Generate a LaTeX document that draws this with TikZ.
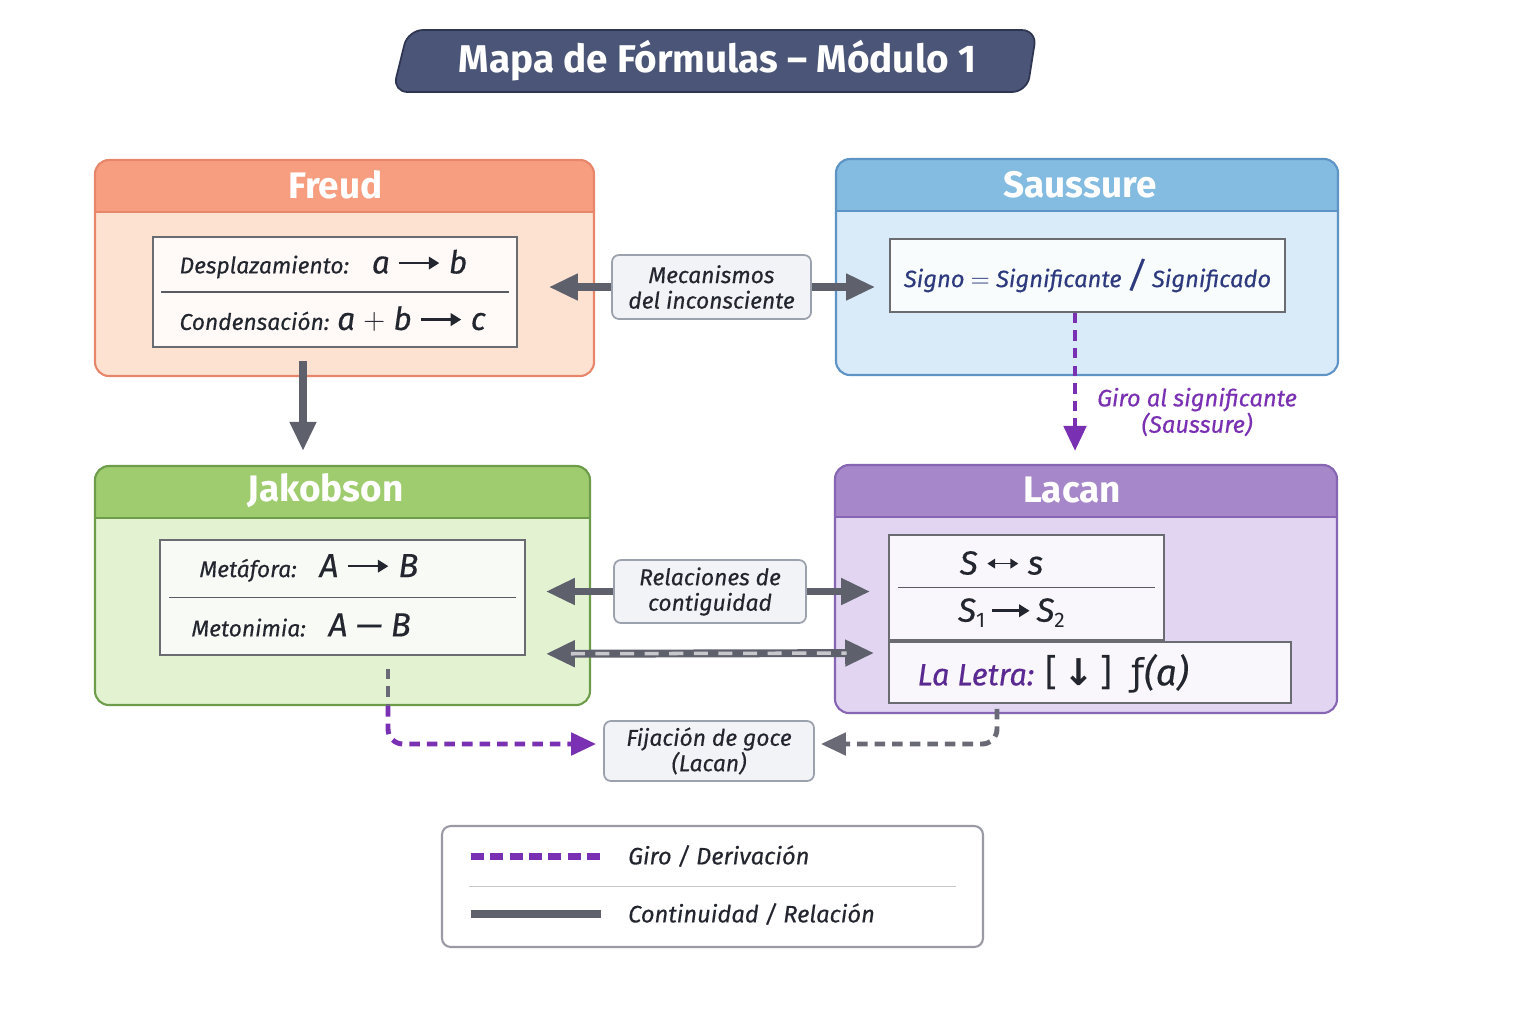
\documentclass[tikz,border=0pt]{standalone}
\usepackage{fontspec}
\setmainfont{Fira Sans}[ItalicFeatures={FakeBold=0.4}]
\newfontfamily\arrowfont{DejaVu Sans}
\usetikzlibrary{shapes.geometric, arrows.meta, positioning, calc}

\definecolor{titleFill}{HTML}{4B5577}
\definecolor{titleLine}{HTML}{2F3652}
\definecolor{freudHead}{HTML}{F79D80}
\definecolor{freudBody}{HTML}{FDE2D2}
\definecolor{freudLine}{HTML}{E8866B}
\definecolor{saussHead}{HTML}{84BBE0}
\definecolor{saussBody}{HTML}{D9EBF8}
\definecolor{saussLine}{HTML}{5E93C6}
\definecolor{jakHead}{HTML}{A0CC70}
\definecolor{jakBody}{HTML}{E3F3D2}
\definecolor{jakLine}{HTML}{6D9D4B}
\definecolor{lacanHead}{HTML}{A687C9}
\definecolor{lacanBody}{HTML}{E1D5F1}
\definecolor{lacanLine}{HTML}{8666B2}
\definecolor{boxLine}{HTML}{6B6B72}
\definecolor{sepLine}{HTML}{5A5A62}
\definecolor{arrGray}{HTML}{5E606C}
\definecolor{dashGray}{HTML}{6A6A76}
\definecolor{giroPurple}{HTML}{7A30B2}
\definecolor{tagFill}{HTML}{F1F3F6}
\definecolor{tagLine}{HTML}{9CA2AD}
\definecolor{inkDark}{HTML}{23262E}
\definecolor{saussInk}{HTML}{2E3A7E}
\definecolor{letraInk}{HTML}{5A2A92}
\definecolor{legLine}{HTML}{9A9AA5}

% small inline arrows for the formulas
\newcommand\rarr[1][0.7]{\tikz[baseline=-0.62ex]\draw[-{Triangle[length=6pt,width=7pt]}, line width=1.5pt, draw=inkDark] (0,0) -- (#1,0);}
\newcommand\lrarr{\tikz[baseline=-0.62ex]\draw[{Triangle[length=4.5pt,width=5.5pt]}-{Triangle[length=4.5pt,width=5.5pt]}, line width=1pt, draw=inkDark] (0,0) -- (0.62,0);}

\begin{document}
\begin{tikzpicture}[
        >={Triangle[length=0.58cm,width=0.5cm]},
        font=\itshape\fontsize{13}{15}\selectfont,
        text=inkDark,
        title/.style={trapezium, trapezium left angle=76, trapezium right angle=99,
                      trapezium stretches=true, minimum width=12.9cm, minimum height=1.24cm,
                      fill=titleFill, draw=titleLine, line width=1pt, rounded corners=0.3cm,
                      text=white, font=\bfseries\fontsize{22}{26}\selectfont},
        panel/.style={rectangle, rounded corners=0.28cm, draw=#1Line, line width=1.2pt, fill=#1Body,
                      path picture={
                        \fill[#1Head, sharp corners] (path picture bounding box.north west)
                            rectangle ([yshift=-1.04cm]path picture bounding box.north east);
                        \draw[#1Line, line width=1pt, sharp corners] ([yshift=-1.04cm]path picture bounding box.north west)
                            -- ([yshift=-1.04cm]path picture bounding box.north east);}},
        headtxt/.style={text=white, font=\bfseries\fontsize{21}{24}\selectfont},
        formula/.style={rectangle, draw=boxLine, line width=0.9pt, fill=#1, inner sep=0pt},
        fline/.style={anchor=west, inner sep=0pt},
        big/.style={font=\itshape\fontsize{19}{19}\selectfont},
        sep/.style={draw=sepLine, line width=0.8pt},
        tag/.style={rectangle, rounded corners=4pt, draw=tagLine, line width=1pt, fill=tagFill,
                    align=center, font=\itshape\fontsize{13}{14.5}\selectfont},
        legend/.style={rectangle, rounded corners=5pt, draw=legLine, line width=1.2pt, fill=white},
        arr/.style={->, draw=arrGray, line width=4.5pt},
        arrd/.style={->, draw=dashGray, line width=2.8pt, dash pattern=on 6pt off 4pt,
                     >={Triangle[length=0.5cm,width=0.44cm]}},
        giro/.style={->, draw=giroPurple, line width=2.8pt, dash pattern=on 6pt off 4pt,
                     >={Triangle[length=0.5cm,width=0.44cm]}}
    ]

    \useasboundingbox (0,0) rectangle (30.72,-20.48);
    \fill[white] (0,0) rectangle (30.72,-20.48);

    % Title banner
    \node[title] (ttl) at (14.35,-1.22) {Mapa de Fórmulas – Módulo 1};

    % Four panels
    \node[panel=freud, minimum width=9.98cm, minimum height=4.32cm] (freud) at (6.89,-5.36) {};
    \node[panel=sauss, minimum width=10.04cm, minimum height=4.32cm] (sauss) at (21.74,-5.34) {};
    \node[panel=jak,   minimum width=9.9cm,  minimum height=4.78cm] (jak)   at (6.85,-11.71) {};
    \node[panel=lacan, minimum width=10.04cm, minimum height=4.96cm] (lacan) at (21.72,-11.78) {};

    \node[headtxt] (freudT) at ([xshift=-0.18cm,yshift=-0.52cm]freud.north) {Freud};
    \node[headtxt] (saussT) at ([xshift=-0.14cm,yshift=-0.54cm]sauss.north) {Saussure};
    \node[headtxt] (jakT)   at ([xshift=-0.34cm,yshift=-0.52cm]jak.north)   {Jakobson};
    \node[headtxt] (lacanT) at ([xshift=-0.28cm,yshift=-0.52cm]lacan.north) {Lacan};

    % Freud formulas
    \node[formula=white!94!freudHead, minimum width=7.28cm, minimum height=2.2cm] (freudIn) at (6.7,-5.84) {};
    \draw[sep] ([xshift=0.18cm]freudIn.west) -- ([xshift=-0.18cm]freudIn.east);
    \node[fline] (desp) at ([xshift=0.54cm,yshift=0.56cm]freudIn.west)
        {Desplazamiento:\quad{\fontsize{18}{18}\selectfont a \rarr[0.8]\ b}};
    \node[fline] (cond) at ([xshift=0.54cm,yshift=-0.54cm]freudIn.west)
        {Condensación: {\fontsize{18}{18}\selectfont a $+$ b \rarr[0.8]\ c}};

    % Saussure formula
    \node[formula=white!95!saussHead, minimum width=7.9cm, minimum height=1.46cm,
          text=saussInk, font=\itshape\fontsize{13.5}{15}\selectfont] (saussIn) at (21.75,-5.51)
        {Signo $=$ Significante {\fontsize{20}{20}\selectfont/} Significado};

    % Jakobson formulas
    \node[formula=white!93!jakHead, minimum width=7.3cm, minimum height=2.3cm] (jakIn) at (6.85,-11.95) {};
    \draw[sep] ([xshift=0.2cm]jakIn.west) -- ([xshift=-0.2cm]jakIn.east);
    \node[fline] (meta) at ([xshift=0.8cm,yshift=0.59cm]jakIn.west)
        {Metáfora:\quad{\fontsize{19}{19}\selectfont A \rarr[0.8]\ B}};
    \node[fline] (meto) at ([xshift=0.64cm,yshift=-0.55cm]jakIn.west)
        {Metonimia:\quad{\fontsize{19}{19}\selectfont A — B}};

    % Lacan formulas
    \node[formula=white!93!lacanHead, minimum width=5.5cm, minimum height=2.1cm] (lac1) at (20.53,-11.75) {};
    \draw[sep] ([xshift=0.2cm]lac1.west) -- ([xshift=-0.2cm]lac1.east);
    \node[big] (ss) at ([xshift=-0.5cm,yshift=0.49cm]lac1.center) {S \lrarr\ s};
    \node[big] (s12) at ([xshift=-0.3cm,yshift=-0.51cm]lac1.center)
        {S\raisebox{-0.35ex}{\upshape\fontsize{12}{12}\selectfont 1}\,\rarr[0.75]\,S\raisebox{-0.35ex}{\upshape\fontsize{12}{12}\selectfont 2}};
    \node[formula=white!93!lacanHead, minimum width=8.04cm, minimum height=1.22cm] (letra) at (21.8,-13.45) {};
    \node[fline] (letraT) at ([xshift=0.58cm,yshift=-0.02cm]letra.west)
        {\textcolor{letraInk}{\fontsize{17.5}{17.5}\selectfont La Letra:}\enspace
         {\upshape\fontsize{21}{21}\selectfont [\,{\arrowfont\bfseries ↓}\,]\enspace{\arrowfont ƒ}\itshape(a)}};

    % Link labels
    \node[tag, minimum width=3.98cm, minimum height=1.28cm] (mec) at (14.23,-5.74) {Mecanismos\\del inconsciente};
    \node[tag, minimum width=3.84cm, minimum height=1.26cm] (rel) at (14.2,-11.83) {Relaciones de\\contiguidad};
    \node[tag, minimum width=4.2cm,  minimum height=1.2cm]  (fij) at (14.18,-15.02) {Fijación de goce\\(Lacan)};
    \node[align=center, text=giroPurple, font=\itshape\fontsize{13.5}{15}\selectfont] (giroT) at (23.94,-8.24)
        {Giro al significante\\(Saussure)};

    % Continuity arrows
    \draw[arr] (mec.west) -- ([xshift=0.62cm]freudIn.east |- mec.west);
    \draw[arr] (mec.east) -- ([xshift=-0.28cm]saussIn.west |- mec.east);
    \draw[arr] ([xshift=-0.64cm,yshift=-0.26cm]freudIn.south) -- ([xshift=-0.64cm,yshift=0.28cm]freudIn.south |- jak.north);
    \draw[arr] (rel.west) -- ([xshift=0.4cm]jakIn.east |- rel.west);
    \draw[arr] (rel.east) -- ([xshift=-0.36cm]lac1.west |- rel.east);
    \draw[arr, <->] ([xshift=0.4cm,yshift=0.04cm]jakIn.south east) -- ([xshift=-0.28cm,yshift=0.39cm]letra.west);
    \draw[draw=white!65!arrGray, line width=2pt, dash pattern=on 8pt off 6pt, shorten <=0.5cm, shorten >=0.55cm]
        ([xshift=0.4cm,yshift=0.04cm]jakIn.south east) -- ([xshift=-0.28cm,yshift=0.39cm]letra.west);

    % Derivations
    \draw[giro] ([xshift=-0.25cm]saussIn.south) -- ([xshift=-0.25cm,yshift=0.26cm]saussIn.south |- lacan.north);
    \draw[draw=dashGray, line width=2.8pt, dash pattern=on 6pt off 4pt]
        ([xshift=0.91cm,yshift=-0.26cm]jakIn.south) -- ([xshift=0.91cm]jakIn.south |- jak.south);
    \draw[giro, rounded corners=0.3cm] ([xshift=0.91cm]jakIn.south |- jak.south)
        |- ([xshift=-0.14cm,yshift=0.14cm]fij.west);
    \draw[arrd, rounded corners=0.3cm] ([xshift=-1.86cm,yshift=-0.1cm]letra.south)
        |- ([xshift=0.12cm,yshift=0.14cm]fij.east);

    % Legend
    \node[legend, minimum width=10.82cm, minimum height=2.42cm] (leg) at (14.25,-17.73) {};
    \draw[draw=giroPurple, line width=4pt, dash pattern=on 7.4pt off 3.6pt]
        ([xshift=0.6cm,yshift=0.61cm]leg.west) -- ++(2.6,0);
    \node[anchor=west, font=\itshape\fontsize{13.5}{15}\selectfont] (legGiro) at ([xshift=3.62cm,yshift=0.61cm]leg.west) {Giro / Derivación};
    \draw[draw=black!22, line width=0.8pt] ([xshift=0.56cm]leg.west) -- ([xshift=-0.56cm]leg.east);
    \draw[draw=arrGray, line width=4.5pt] ([xshift=0.6cm,yshift=-0.55cm]leg.west) -- ++(2.6,0);
    \node[anchor=west, font=\itshape\fontsize{13.5}{15}\selectfont] (legCont) at ([xshift=3.62cm,yshift=-0.55cm]leg.west) {Continuidad / Relación};

    \end{tikzpicture}
\end{document}
